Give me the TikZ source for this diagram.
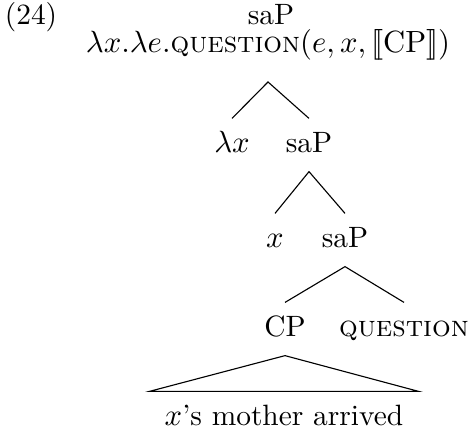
\documentclass[tikz,border=0pt]{standalone}
\begin{document}
\begin{tikzpicture}[x=0.357pt, y=-0.357pt,
    every node/.style={font=\fontsize{10.5}{12}\selectfont},
    lbl/.style={anchor=base, inner sep=0pt, text height=7pt, text depth=2pt, outer sep=5pt},
    sem/.style={lbl, outer ysep=8.7pt},
    branch/.style={line width=0.4pt}]
    \useasboundingbox (0,0) rectangle (469,434);
    \node[lbl] (n24) at (31,24) {(24)};

    \node[lbl] (root) at (271,24) {saP};
    \node[sem] (rootsem) at (268,52) {$\lambda x.\lambda e.$\textsc{question}$(e,x,[\![\mathrm{CP}]\!])$};

    \node[lbl] (lam) at (232,152) {$\lambda x$};
    \node[lbl] (sap1) at (309,152) {saP};
    \node[lbl] (var) at (275,247) {$x$};
    \node[lbl] (sap2) at (345,247) {saP};
    \node[lbl] (cp) at (285,336) {CP};
    \node[lbl] (qu) at (404,336) {\textsc{question}};
    \node[lbl, outer xsep=5.5pt] (yield) at (284,425) {$x$'s mother arrived};

    \draw[branch] (lam.north) -- (rootsem.south) -- (sap1.north);
    \draw[branch] (var.north) -- (sap1.south) -- (sap2.north);
    \draw[branch] (cp.north) -- (sap2.south) -- (qu.north);
    \draw[branch] (cp.south) -- (yield.north west) -- (yield.north east) -- cycle;
\end{tikzpicture}
\end{document}
